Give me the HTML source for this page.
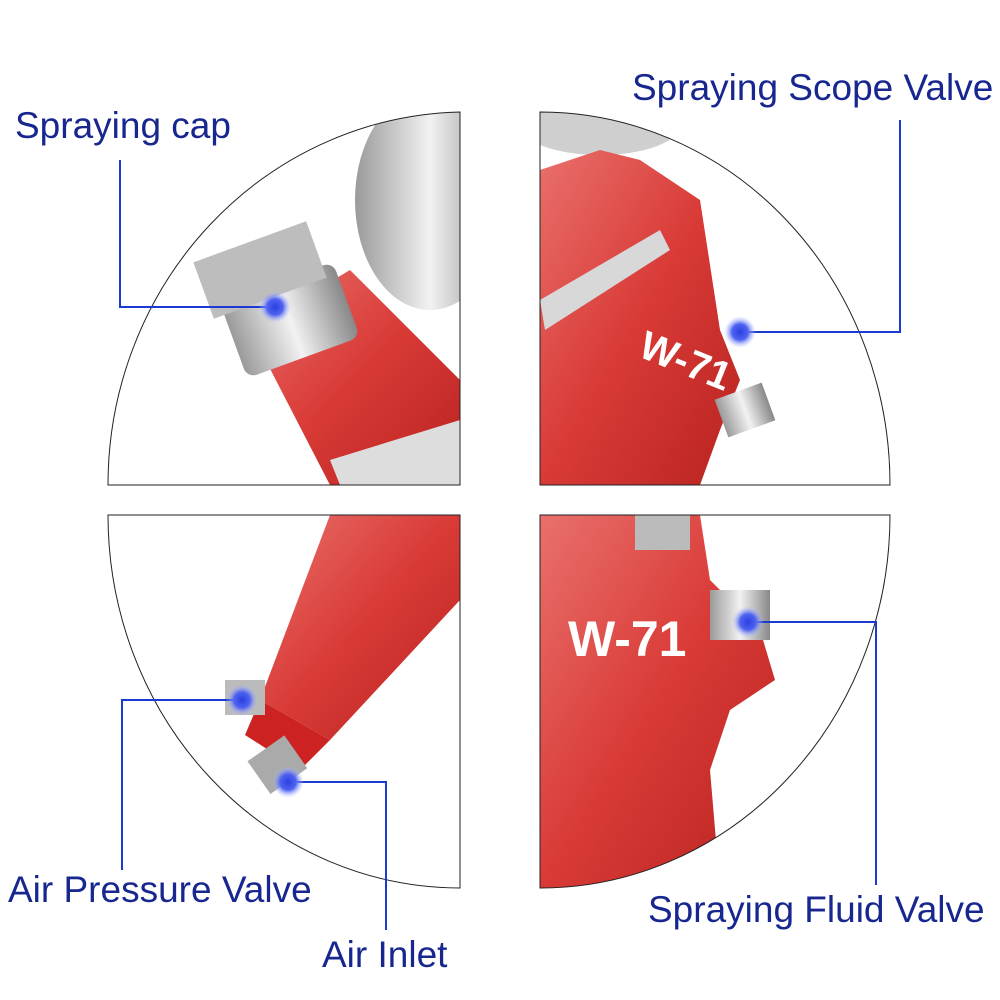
<!DOCTYPE html>
<html><head><meta charset="utf-8"><style>
html,body{margin:0;padding:0;background:#fff}
svg{display:block}
text.l{font-family:"Liberation Sans",sans-serif;font-size:37px;fill:#17278f}
</style></head><body>
<svg width="1000" height="1000" viewBox="0 0 1000 1000" xmlns="http://www.w3.org/2000/svg">
<defs>
<clipPath id="tl"><path d="M460,485 L108,485 A360,373 0 0 1 460,112 Z"/></clipPath>
<clipPath id="tr"><path d="M540,485 L540,112 A350,373 0 0 1 890,485 Z"/></clipPath>
<clipPath id="bl"><path d="M460,515 L460,888 A352,373 0 0 1 108,515 Z"/></clipPath>
<clipPath id="br"><path d="M540,515 L890,515 A350,373 0 0 1 540,888 Z"/></clipPath>
<linearGradient id="red" x1="0" y1="0" x2="1" y2="1"><stop offset="0" stop-color="#e9706c"/><stop offset="0.5" stop-color="#d93a36"/><stop offset="1" stop-color="#b82320"/></linearGradient>
<linearGradient id="sil" x1="0" y1="0" x2="1" y2="0"><stop offset="0" stop-color="#9a9a9a"/><stop offset="0.5" stop-color="#f2f2f2"/><stop offset="1" stop-color="#888"/></linearGradient>
<radialGradient id="dot"><stop offset="0" stop-color="#2a3fe0"/><stop offset="0.5" stop-color="#4f63f0"/><stop offset="1" stop-color="#bcc6ff" stop-opacity="0"/></radialGradient>
</defs>
<g clip-path="url(#tl)">
<ellipse cx="430" cy="200" rx="75" ry="110" fill="url(#sil)"/>
<path d="M250,330 L350,270 L460,380 L460,485 L330,485 Z" fill="url(#red)"/>
<rect x="230" y="280" width="120" height="80" rx="10" fill="url(#sil)" transform="rotate(-20 290 320)"/>
<rect x="200" y="240" width="120" height="60" fill="#bdbdbd" transform="rotate(-20 260 270)"/>
<path d="M330,460 L460,420 L460,485 L340,485 Z" fill="#ddd"/>
</g>
<path d="M460,485 L108,485 A360,373 0 0 1 460,112 Z" fill="none" stroke="#222" stroke-width="1"/>
<g clip-path="url(#tr)">
<ellipse cx="600" cy="125" rx="80" ry="30" fill="#cfcfcf"/>
<path d="M540,170 L600,150 L640,160 L700,200 L720,330 L740,380 L720,430 L700,485 L540,485 Z" fill="url(#red)"/>
<path d="M540,300 L660,230 L670,250 L545,330 Z" fill="#d8d8d8"/>
<rect x="720" y="390" width="50" height="40" fill="url(#sil)" transform="rotate(-20 745 410)"/>
<text x="630" y="370" transform="rotate(22 670 380)" font-family="Liberation Sans,sans-serif" font-weight="bold" font-size="40" fill="#fff">W-71</text>
</g>
<path d="M540,485 L540,112 A350,373 0 0 1 890,485 Z" fill="none" stroke="#222" stroke-width="1"/>
<g clip-path="url(#bl)">
<path d="M330,515 L460,515 L460,600 L330,740 L260,700 Z" fill="url(#red)"/>
<path d="M260,700 L330,740 L300,770 L245,735 Z" fill="#c22"/>
<rect x="225" y="680" width="40" height="35" fill="#bbb"/>
<rect x="255" y="745" width="45" height="40" fill="#aaa" transform="rotate(-35 277 765)"/>
</g>
<path d="M460,515 L460,888 A352,373 0 0 1 108,515 Z" fill="none" stroke="#222" stroke-width="1"/>
<g clip-path="url(#br)">
<path d="M540,515 L700,515 L710,580 L760,630 L775,680 L730,710 L710,770 L720,888 L540,888 Z" fill="url(#red)"/>
<rect x="710" y="590" width="60" height="50" fill="url(#sil)"/>
<rect x="635" y="515" width="55" height="35" fill="#bbb"/>
<text x="568" y="656" font-family="Liberation Sans,sans-serif" font-weight="bold" font-size="50" fill="#fff">W-71</text>
</g>
<path d="M540,515 L890,515 A350,373 0 0 1 540,888 Z" fill="none" stroke="#222" stroke-width="1"/>
<g fill="none" stroke="#1b3ad0" stroke-width="2">
<path d="M120,160 V307 H275"/>
<path d="M900,120 V332 H740"/>
<path d="M122,870 V700 H242"/>
<path d="M386,930 V782 H288"/>
<path d="M876,885 V622 H748"/>
</g>
<g fill="url(#dot)">
<circle cx="275" cy="307" r="16"/><circle cx="740" cy="332" r="16"/>
<circle cx="242" cy="700" r="16"/><circle cx="288" cy="782" r="16"/>
<circle cx="748" cy="622" r="16"/>
</g>
<text class="l" x="15" y="138">Spraying cap</text>
<text class="l" x="632" y="100">Spraying Scope Valve</text>
<text class="l" x="8" y="902">Air Pressure Valve</text>
<text class="l" x="322" y="967">Air Inlet</text>
<text class="l" x="648" y="922">Spraying Fluid Valve</text>
</svg>
</body></html>
